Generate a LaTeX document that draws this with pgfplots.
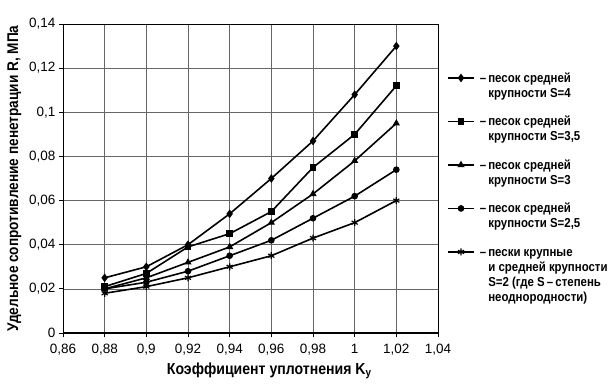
\documentclass[border=0pt]{standalone}
\usepackage{fontspec}
\setmainfont{Liberation Sans}
\newfontfamily\nfont[FakeStretch=0.88, BoldFont={Liberation Sans Bold}]{Liberation Sans}
\usepackage{pgfplots}
\pgfplotsset{compat=1.18}
\begin{document}
\begin{tikzpicture}[x=1pt,y=1pt]
\useasboundingbox (0,0) rectangle (613,388);
\begin{axis}[
  at={(63pt,55pt)}, anchor=south west,
  scale only axis, width=375pt, height=309pt,
  xmin=0.86, xmax=1.04, ymin=0, ymax=0.14,
  xtick={0.86,0.88,0.9,0.92,0.94,0.96,0.98,1,1.02,1.04},
  ytick={0,0.02,0.04,0.06,0.08,0.1,0.12,0.14},
  xmajorgrids=true, ymajorgrids=true,
  major grid style={draw=black!60, line width=0.5pt},
  tick label style={font=\fontsize{13.5}{15}\selectfont, /pgf/number format/fixed, /pgf/number format/use comma, /pgf/number format/assume math mode=true},
  xticklabel style={yshift=-4pt},
  axis line style={line width=0.8pt},
  tick align=outside, xtick pos=bottom, ytick pos=left,
  major tick length=4pt, tick style={line width=0.8pt, black},
  xlabel={\textbf{Коэффициент уплотнения K\textsubscript{y}}},
  ylabel={\textbf{Удельное сопротивление пенетрации R, МПа}},
  xlabel style={font=\nfont\fontsize{16}{18}\selectfont, at={(ticklabel cs:0.55)}, anchor=north, yshift=0pt},
  ylabel style={font=\nfont\fontsize{15.5}{17}\selectfont, at={(ticklabel cs:0.5)}, anchor=south, yshift=1pt},
  legend style={at={(1.024,0.852)}, anchor=north west, draw=none, fill=none,
    inner sep=0pt, font=\nfont\bfseries\fontsize{13}{15}\selectfont,
    row sep=27.5pt, cells={anchor=north west}},
  legend cell align=left,
  legend image code/.code={\draw[mark repeat=2,mark phase=2,#1] plot coordinates {(0pt,0pt) (13pt,0pt) (26pt,0pt)};},
]
\addplot[black, line width=1.6pt, mark=diamond*, mark size=3.5pt, mark options={solid, line width=1pt}] coordinates {(0.88,0.025) (0.9,0.030) (0.92,0.040) (0.94,0.054) (0.96,0.070) (0.98,0.087) (1.0,0.108) (1.02,0.130)};
\addlegendentry{\hspace{3pt}–\,\begin{tabular}[t]{@{}l@{}}песок средней\\крупности S=4\end{tabular}}
\addplot[black, line width=1.6pt, mark=square*, mark size=2.8pt, mark options={solid, line width=1pt}] coordinates {(0.88,0.021) (0.9,0.027) (0.92,0.039) (0.94,0.045) (0.96,0.055) (0.98,0.075) (1.0,0.090) (1.02,0.112)};
\addlegendentry{\hspace{3pt}–\,\begin{tabular}[t]{@{}l@{}}песок средней\\крупности S=3,5\end{tabular}}
\addplot[black, line width=1.6pt, mark=triangle*, mark size=3.2pt, mark options={solid, line width=1pt}] coordinates {(0.88,0.020) (0.9,0.025) (0.92,0.032) (0.94,0.039) (0.96,0.050) (0.98,0.063) (1.0,0.078) (1.02,0.095)};
\addlegendentry{\hspace{3pt}–\,\begin{tabular}[t]{@{}l@{}}песок средней\\крупности S=3\end{tabular}}
\addplot[black, line width=1.6pt, mark=*, mark size=2.8pt, mark options={solid, line width=1pt}] coordinates {(0.88,0.020) (0.9,0.023) (0.92,0.028) (0.94,0.035) (0.96,0.042) (0.98,0.052) (1.0,0.062) (1.02,0.074)};
\addlegendentry{\hspace{3pt}–\,\begin{tabular}[t]{@{}l@{}}песок средней\\крупности S=2,5\end{tabular}}
\addplot[black, line width=1.6pt, mark=asterisk, mark size=3.5pt, mark options={solid, line width=1.2pt}] coordinates {(0.88,0.018) (0.9,0.021) (0.92,0.025) (0.94,0.030) (0.96,0.035) (0.98,0.043) (1.0,0.050) (1.02,0.060)};
\addlegendentry{\hspace{3pt}–\,\begin{tabular}[t]{@{}l@{}}пески крупные\\и средней крупности\\S=2 (где S\,–\,степень\\неоднородности)\end{tabular}}
\draw[line width=2.5pt] (rel axis cs:0,1) -- (rel axis cs:0,0) -- (rel axis cs:1,0);
\end{axis}
\end{tikzpicture}
\end{document}
